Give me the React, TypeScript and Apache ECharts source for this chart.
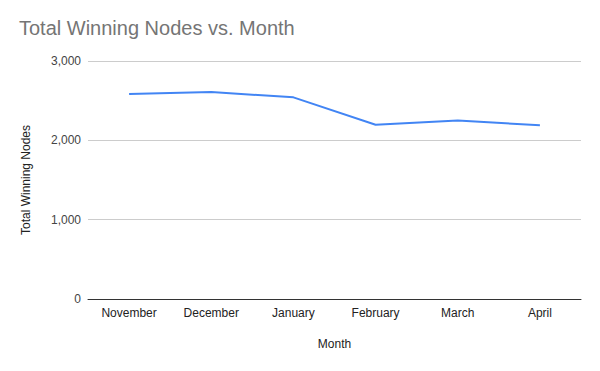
import React, { useEffect, useRef } from "react";
import * as echarts from "echarts";

const months = ["November", "December", "January", "February", "March", "April"];
const totalWinningNodes = [2584, 2609, 2542, 2197, 2251, 2190];
const yTicks = { min: 0, max: 3000, interval: 1000 };

const FONT = "'Liberation Sans', Arial, sans-serif";

export default function App() {
  const ref = useRef<HTMLDivElement>(null);
  useEffect(() => {
    if (!ref.current) return;
    const chart = echarts.init(ref.current, null, { renderer: "svg" });
    chart.setOption({
      animation: false,
      backgroundColor: "#ffffff",
      textStyle: { fontFamily: FONT },
      title: {
        text: "Total Winning Nodes vs. Month",
        left: 14,
        top: 13,
        textStyle: { fontSize: 20, fontWeight: "normal", color: "#757575", fontFamily: FONT },
      },
      grid: { left: 88, right: 19, top: 61, bottom: 72, containLabel: false },
      xAxis: {
        type: "category",
        data: months,
        boundaryGap: true,
        name: "Month",
        nameLocation: "middle",
        nameGap: 39,
        nameTextStyle: { fontSize: 12, color: "#222222", fontFamily: FONT },
        axisLine: { lineStyle: { color: "#333333", width: 1 } },
        axisTick: { show: false },
        axisLabel: { fontSize: 12, color: "#222222", margin: 8, fontFamily: FONT },
      },
      yAxis: {
        type: "value",
        min: yTicks.min,
        max: yTicks.max,
        interval: yTicks.interval,
        name: "Total Winning Nodes",
        nameLocation: "middle",
        nameGap: 56,
        nameRotate: 90,
        nameTextStyle: { fontSize: 12, color: "#222222", fontFamily: FONT },
        axisLine: { show: false },
        axisTick: { show: false },
        axisLabel: {
          fontSize: 12,
          color: "#444444",
          margin: 7,
          fontFamily: FONT,
          formatter: (v: number) => v.toLocaleString("en-US"),
        },
        splitLine: { lineStyle: { color: "#cccccc", width: 1 } },
      },
      series: [
        {
          type: "line",
          data: totalWinningNodes,
          showSymbol: false,
          symbol: "none",
          lineStyle: { color: "#4285F4", width: 2 },
          itemStyle: { color: "#4285F4" },
        },
      ],
    });
    return () => chart.dispose();
  }, []);
  return <div ref={ref} style={{ width: 600, height: 371, position: "absolute", left: 0, top: 0 }} />;
}
